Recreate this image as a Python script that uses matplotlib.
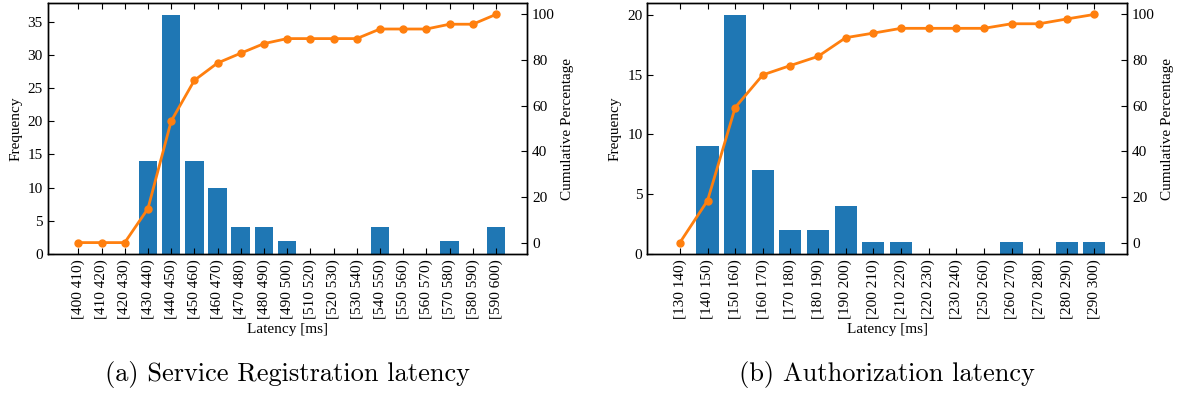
import matplotlib
matplotlib.use("Agg")
import matplotlib.pyplot as plt

plt.rcParams['font.family'] = ['Liberation Serif', 'DejaVu Serif']
plt.rcParams['font.size'] = 11
plt.rcParams['axes.linewidth'] = 1.0

# (a) Service Registration latency
cats_a = ["[400 410)", "[410 420)", "[420 430)", "[430 440)", "[440 450)", "[450 460)",
          "[460 470)", "[470 480)", "[480 490)", "[490 500)", "[510 520)", "[520 530)",
          "[530 540)", "[540 550)", "[550 560)", "[560 570)", "[570 580)", "[580 590)",
          "[590 600)"]
freq_a = [0, 0, 0, 14, 36, 14, 10, 4, 4, 2, 0, 0, 0, 4, 0, 0, 2, 0, 4]
cum_a = [0, 0, 0, 14.9, 53.2, 71.1, 78.7, 83.0, 87.2, 89.4, 89.4, 89.4, 89.4,
         93.6, 93.6, 93.6, 95.7, 95.7, 100]

# (b) Authorization latency
cats_b = ["[130 140)", "[140 150)", "[150 160)", "[160 170)", "[170 180)", "[180 190)",
          "[190 200)", "[200 210)", "[210 220)", "[220 230)", "[230 240)", "[250 260)",
          "[260 270)", "[270 280)", "[280 290)", "[290 300)"]
freq_b = [0, 9, 20, 7, 2, 2, 4, 1, 1, 0, 0, 0, 1, 0, 1, 1]
cum_b = [0, 18.4, 59.2, 73.5, 77.6, 81.6, 89.8, 91.8, 93.9, 93.9, 93.9, 93.9,
         95.9, 95.9, 98.0, 100]

captions = ["(a) Service Registration latency", "(b) Authorization latency"]

W, H = 1182, 394
fig = plt.figure(figsize=(W / 100, H / 100), dpi=100)

panels = [
    (cats_a, freq_a, cum_a, (47.7, 527.3), (-1.32, 19.35)),
    (cats_b, freq_b, cum_b, (647.3, 1127.3), (-1.18, 16.19)),
]

for i, (cats, freq, cum, (xl, xr), xlim) in enumerate(panels):
    ax = fig.add_axes([xl / W, 1 - 254 / H, (xr - xl) / W, (254 - 3) / H])
    x = list(range(len(cats)))
    ax.bar(x, freq, width=0.8, color='#1f77b4')
    ax.set_xticks(x)
    ax.set_xticklabels(cats, rotation=90)
    ax.set_xlim(*xlim)
    ax.set_ylim(0, max(freq) * 1.05)
    ax.set_xlabel("Latency [ms]", labelpad=3)
    ax.set_ylabel("Frequency")
    ax.tick_params(direction='in', top=True, right=False, length=4)
    ax2 = ax.twinx()
    ax2.plot(x, cum, color='#ff7f0e', lw=2, marker='o', ms=5)
    ax2.set_ylim(-5, 105)
    ax2.set_yticks([0, 20, 40, 60, 80, 100])
    ax2.set_ylabel("Cumulative Percentage")
    ax2.tick_params(direction='in', length=4)
    cx = (xl + xr) / 2 / W
    fig.text(cx, 1 - 375 / H, captions[i], family='cmr10', fontsize=19,
             ha='center', va='center')

fig.savefig("out.png", dpi=100)
